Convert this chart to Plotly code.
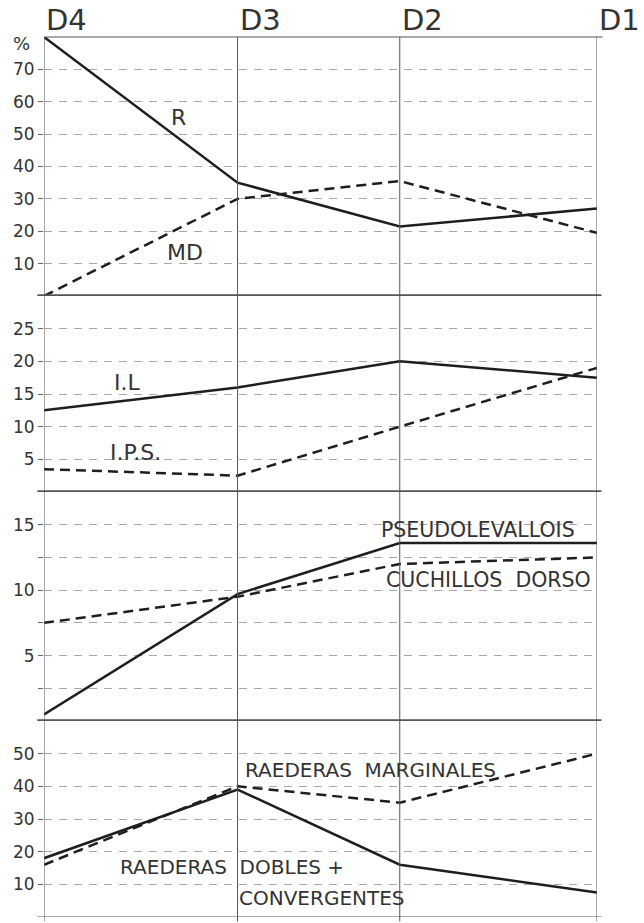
import plotly.graph_objects as go

levels = ["D4", "D3", "D2", "D1"]
# horizontal placement of the levels along the axis (uneven spacing as drawn)
level_x = [0, 1.05, 1.93, 3]

r_vals = [80, 35, 21.5, 27]
md_vals = [0, 30, 35.5, 19.5]

il_vals = [12.5, 16, 20, 17.5]
ips_vals = [3.5, 2.5, 10, 19]

pseudo_vals = [0.5, 9.7, 13.6, 13.6]
cuch_vals = [7.5, 9.5, 12, 12.5]

marg_vals = [16, 40, 35, 50]
dobles_vals = [18, 39, 16, 7.5]

FONT = "DejaVu Sans"
LINE = "#1e1e1e"
GRID = "#a8a8a8"
TXT = "#333333"

# domains (bottom -> top)
H = 880.0
d4 = [0, 196 / H]
d3 = [196 / H, 425 / H]
d2 = [425 / H, 621 / H]
d1 = [621 / H, 1.0]

fig = go.Figure()

def add(y, yaxis, dash):
    fig.add_trace(go.Scatter(
        x=level_x, y=y, xaxis="x", yaxis=yaxis, mode="lines",
        line=dict(color=LINE, width=2.5, dash=("10px,6px" if dash else "solid")),
        showlegend=False, hoverinfo="skip"))

add(r_vals, "y", False)
add(md_vals, "y", True)
add(il_vals, "y2", False)
add(ips_vals, "y2", True)
add(pseudo_vals, "y3", False)
add(cuch_vals, "y3", True)
add(marg_vals, "y4", True)
add(dobles_vals, "y4", False)

def yax(domain, rng, tickvals, ticktext):
    return dict(domain=domain, range=rng, anchor="x", tickvals=tickvals, ticktext=ticktext,
                showgrid=True, gridcolor=GRID, griddash="8px,7px", gridwidth=1,
                zeroline=False, showline=False, ticks="outside", ticklen=5,
                tickcolor="#666", tickwidth=1,
                tickfont=dict(family=FONT, size=17, color=TXT), fixedrange=True)

fig.update_layout(
    width=644, height=923,
    margin=dict(l=44, r=47, t=37, b=6),
    paper_bgcolor="white", plot_bgcolor="white",
    xaxis=dict(range=[0, 3], showticklabels=False, showgrid=False, zeroline=False,
               showline=False, ticks="", anchor="y4", fixedrange=True),
    yaxis=yax(d1, [0, 80], [10, 20, 30, 40, 50, 60, 70],
              ["10", "20", "30", "40", "50", "60", "70"]),
    yaxis2=yax(d2, [0, 30], [5, 10, 15, 20, 25], ["5", "10", "15", "20", "25"]),
    yaxis3=yax(d3, [0, 17.5], [2.5, 5, 7.5, 10, 12.5, 15], ["", "5", "", "10", "", "15"]),
    yaxis4=yax(d4, [0, 60], [10, 20, 30, 40, 50], ["10", "20", "30", "40", "50"]),
)

shapes = []
# vertical lines across all panels
for xv in level_x:
    shapes.append(dict(type="line", xref="x", yref="paper", x0=xv, x1=xv, y0=-0.005, y1=1.0,
                       line=dict(color="#555", width=1)))
# top line
shapes.append(dict(type="line", xref="paper", yref="paper", x0=0, x1=1.01, y0=1, y1=1,
                   line=dict(color="#555", width=1)))
# thick separators
for yr in ["y", "y2", "y3"]:
    shapes.append(dict(type="line", xref="paper", yref=yr, x0=-0.012, x1=1.008, y0=0, y1=0,
                       line=dict(color="#555", width=3.5)))
shapes.append(dict(type="line", xref="paper", yref="y4", x0=-0.012, x1=1.008, y0=0, y1=0,
                   line=dict(color="#555", width=1)))
fig.update_layout(shapes=shapes)

ann = []
for xv, lab in zip(level_x, levels):
    ann.append(dict(x=xv, y=1, xref="x", yref="paper", text=lab, showarrow=False,
                    xanchor="left", yanchor="bottom", yshift=-2, xshift=0,
                    font=dict(family=FONT, size=29, color=TXT)))

def lab(text, x, y, yref, size=19):
    ann.append(dict(x=x, y=y, xref="x", yref=yref, text=text, showarrow=False,
                    xanchor="center", yanchor="middle",
                    font=dict(family=FONT, size=size, color=TXT)))

lab("R", 0.727, 55, "y", 22)
lab("MD", 0.765, 13.5, "y", 22)
lab("I.L", 0.45, 16.7, "y2", 22)
lab("I.P.S.", 0.494, 6.0, "y2", 22)
lab("PSEUDOLEVALLOIS", 2.354, 14.6, "y3", 20.5)
lab("CUCHILLOS  DORSO", 2.414, 10.8, "y3", 20.5)
lab("RAEDERAS  MARGINALES", 1.769, 45, "y4", 20)
lab("RAEDERAS  DOBLES +", 1.02, 15.3, "y4", 20)
lab("CONVERGENTES", 1.508, 5.8, "y4", 20)

ann.append(dict(x=-0.04, y=78, xref="paper", yref="y", text="%", showarrow=False,
                xanchor="center", yanchor="middle",
                font=dict(family=FONT, size=18, color=TXT)))
fig.update_layout(annotations=ann)

fig.write_html("out.html")
